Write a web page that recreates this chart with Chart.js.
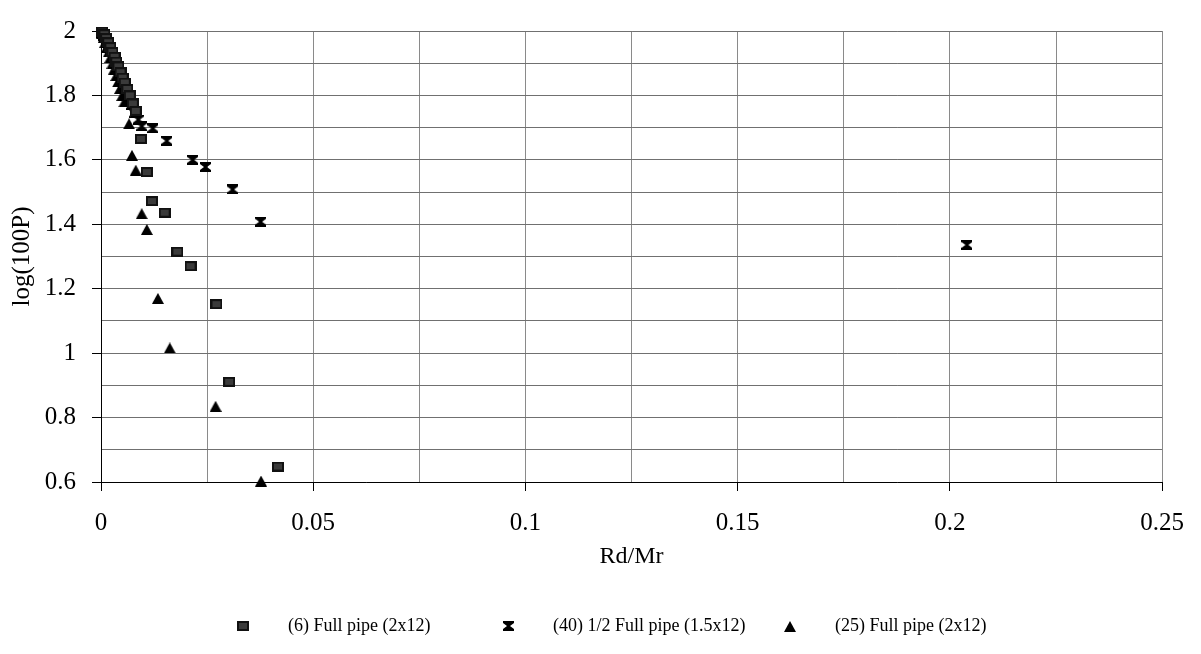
<!DOCTYPE html>
<html><head><meta charset="utf-8">
<script src="https://cdn.jsdelivr.net/npm/chart.js@4.4.1/dist/chart.umd.min.js"></script>
<style>html,body{margin:0;padding:0;background:#fff}#wrap{width:1201px;height:654px}</style>
</head><body><div id="wrap"><canvas id="c" width="1201" height="654"></canvas></div>
<script>
const seriesNames = ['(6) Full pipe (2x12)', '(40) 1/2 Full pipe (1.5x12)', '(25) Full pipe (2x12)'];
const xTickLabels = ['0', '0.05', '0.1', '0.15', '0.2', '0.25'];
const yTickLabels = ['0.6', '0.8', '1', '1.2', '1.4', '1.6', '1.8', '2'];

const squareX = [0.0003,0.0008,0.0012,0.0017,0.0022,0.0027,0.0032,0.0036,0.0041,0.0046,0.0051,0.0056,0.0062,0.0068,0.0075,0.0082,0.0094,0.0108,0.0120,0.0150,0.0180,0.0211,0.0272,0.0302,0.0417];
const squareY = [1.998,1.990,1.978,1.965,1.950,1.935,1.920,1.905,1.890,1.872,1.855,1.840,1.820,1.800,1.775,1.752,1.665,1.562,1.472,1.436,1.315,1.270,1.152,0.911,0.648];

const bowX = [0.0002,0.0007,0.0012,0.0017,0.0022,0.0028,0.0034,0.0040,0.0046,0.0052,0.0058,0.0064,0.0072,0.0080,0.0088,0.0096,0.0122,0.0155,0.0216,0.0246,0.0310,0.0376,0.2040];
const bowY = [1.995,1.985,1.970,1.955,1.940,1.920,1.900,1.880,1.860,1.840,1.820,1.795,1.770,1.745,1.725,1.704,1.698,1.659,1.600,1.578,1.508,1.408,1.336];

const triX = [0.0002,0.0006,0.0010,0.0014,0.0018,0.0022,0.0027,0.0031,0.0036,0.0040,0.0045,0.0050,0.0055,0.0066,0.0073,0.0082,0.0096,0.0108,0.0134,0.0162,0.0270,0.0377];
const triY = [1.993,1.980,1.965,1.950,1.935,1.918,1.900,1.882,1.862,1.842,1.822,1.800,1.780,1.712,1.614,1.568,1.433,1.384,1.170,1.016,0.835,0.603];

function pts(xs, ys) { return xs.map((x, i) => ({x: x, y: ys[i]})); }

function markerSquare() {
  const c = document.createElement('canvas'); c.width = 12; c.height = 10;
  const g = c.getContext('2d');
  g.fillStyle = '#111'; g.fillRect(0, 0, 12, 10);
  g.fillStyle = '#3a3a3a'; g.fillRect(2, 2, 8, 6);
  return c;
}
function markerBowtie() {
  const c = document.createElement('canvas'); c.width = 11; c.height = 10;
  const g = c.getContext('2d');
  g.fillStyle = '#000';
  g.beginPath();
  g.moveTo(0, 0); g.lineTo(11, 0); g.lineTo(11, 2); g.lineTo(7, 5); g.lineTo(11, 8);
  g.lineTo(11, 10); g.lineTo(0, 10); g.lineTo(0, 8); g.lineTo(4, 5); g.lineTo(0, 2);
  g.closePath(); g.fill();
  return c;
}
function markerTriangle() {
  const c = document.createElement('canvas'); c.width = 12; c.height = 11;
  const g = c.getContext('2d');
  g.fillStyle = '#000';
  g.beginPath(); g.moveTo(6, 0); g.lineTo(12, 11); g.lineTo(0, 11); g.closePath(); g.fill();
  return c;
}

const serif = "'Liberation Serif', 'Times New Roman', serif";

// Excel-style legend drawn from the chart's own datasets
const legendMarkerX = [243, 508, 790];
const excelLegend = {
  id: 'excelLegend',
  afterDraw(chart) {
    const ctx = chart.ctx;
    const ds = chart.data.datasets;
    const gap = 45, y = 626;
    ctx.save();
    ctx.font = '18px ' + serif;
    ctx.fillStyle = '#000';
    ctx.textBaseline = 'middle';
    ctx.textAlign = 'left';
    ds.forEach((d, i) => {
      const mx = legendMarkerX[i];
      const img = d.pointStyle;
      ctx.drawImage(img, Math.round(mx - img.width / 2), Math.round(y - img.height / 2));
      ctx.fillText(d.label, mx + gap, y);
    });
    ctx.restore();
  }
};

new Chart(document.getElementById('c'), {
  type: 'scatter',
  data: {
    datasets: [
      {label: seriesNames[0], data: pts(squareX, squareY), pointStyle: markerSquare(), pointRadius: 6, clip: false, backgroundColor: '#333', borderColor: '#000'},
      {label: seriesNames[1], data: pts(bowX, bowY), pointStyle: markerBowtie(), pointRadius: 6, clip: false, backgroundColor: '#000', borderColor: '#000'},
      {label: seriesNames[2], data: pts(triX, triY), pointStyle: markerTriangle(), pointRadius: 6, clip: false, backgroundColor: '#000', borderColor: '#000'}
    ]
  },
  plugins: [excelLegend],
  options: {
    responsive: false,
    animation: false,
    devicePixelRatio: 1,
    layout: {padding: {top: 17, right: 30, left: 0, bottom: 63}},
    plugins: {
      tooltip: {enabled: false},
      legend: {display: false}
    },
    scales: {
      x: {
        type: 'linear', min: 0, max: 0.25,
        afterFit: s => { s.height = 654 - 482 - 63; },
        ticks: {
          stepSize: 0.025, autoSkip: false, maxRotation: 0, padding: 17, color: '#000',
          font: {family: serif, size: 25},
          callback: (v, i) => (i % 2 === 0 ? xTickLabels[i / 2] : '')
        },
        grid: {color: '#8a8a8a', lineWidth: 1, tickLength: 9,
          tickColor: c => (c.index % 2 === 0 ? '#000' : 'rgba(0,0,0,0)')},
        border: {display: true, color: '#000', width: 1},
        title: {display: true, text: 'Rd/Mr', color: '#000', font: {family: serif, size: 24}, padding: {top: 0, bottom: 20}}
      },
      y: {
        type: 'linear', min: 0.6, max: 2,
        afterFit: s => { s.width = 101; },
        ticks: {
          stepSize: 0.1, autoSkip: false, padding: 16, color: '#000',
          font: {family: serif, size: 25},
          callback: (v, i) => (i % 2 === 0 ? yTickLabels[i / 2] : '')
        },
        grid: {color: '#707070', lineWidth: 1, tickLength: 9,
          tickColor: c => (c.index % 2 === 0 ? '#000' : 'rgba(0,0,0,0)')},
        border: {display: true, color: '#000', width: 1},
        title: {display: true, text: 'log(100P)', color: '#000', font: {family: serif, size: 25}, padding: {top: 7, bottom: 0}}
      }
    }
  }
});
</script></body></html>
